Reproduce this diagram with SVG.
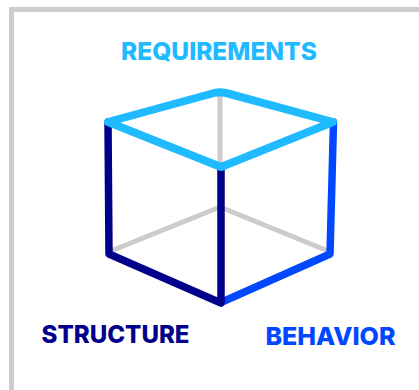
<svg xmlns="http://www.w3.org/2000/svg" width="419" height="390" viewBox="0 0 419 390">
<style>
.t{font-family:Inter,"Liberation Sans",sans-serif;font-weight:800}
.l{fill:none;stroke-linecap:round;stroke-linejoin:round}
.g{stroke:#cccccc;stroke-width:5}
.n{stroke:#00008b;stroke-width:7.500}
.b{stroke:#0047ff;stroke-width:7.500}
.c{stroke:#1fbaff;stroke-width:8}
</style>
<rect width="419" height="390" fill="#fff"/>
<path id="frame" d="M419 9.500H11.500V390" fill="none" stroke="#cccccc" stroke-width="5"/>
<g id="connectors">
<path class="l g" d="M220 95V207M111 251L220 207L328 251"/>
<path class="l b" d="M333.500 122L330 254L222 302"/>
<path class="l n" d="M108 122L109 254L221 303V167"/>
<path class="l c" d="M108 122L214 93Q220 91.500 226 93L333 122L221 167Z"/>
</g>
<g id="requirements"><text class="t" x="121" y="60" font-size="24.500" fill="#1fbaff">REQUIREMENTS</text></g>
<g id="structure"><text class="t" x="41.500" y="343" font-size="24.100" fill="#00008b">STRUCTURE</text></g>
<g id="behavior"><text class="t" x="265.500" y="345" font-size="25" fill="#0047ff">BEHAVIOR</text></g>
</svg>
